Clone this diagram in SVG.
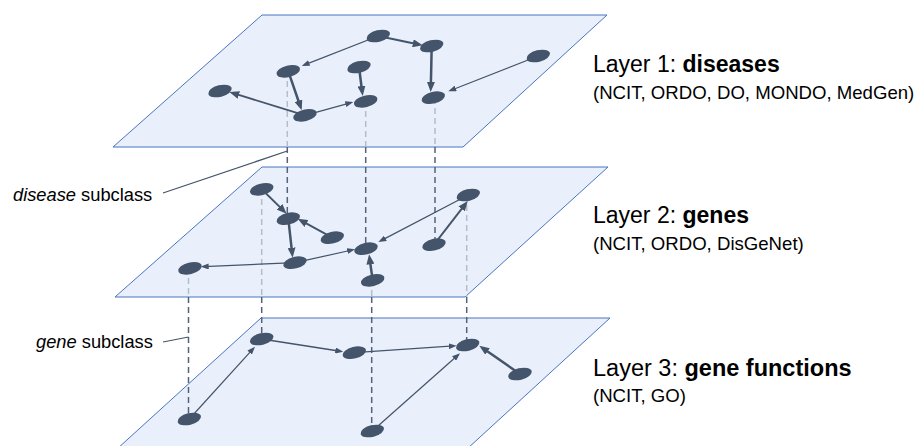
<svg xmlns="http://www.w3.org/2000/svg" width="917" height="446" viewBox="0 0 917 446">
<style>
.plane{fill:#E9F0FB;stroke:#4A74C0;stroke-width:1}
.node{fill:#44546A}
.e{stroke:#44546A;fill:none}
.thin{stroke-width:1.2;marker-end:url(#as)}
.mid{stroke-width:1.9;marker-end:url(#al)}
.thick{stroke-width:2.5;marker-end:url(#al)}
.dk{stroke:#56627A;stroke-width:1.5;stroke-dasharray:6 4;fill:none}
.lt{stroke:#B3BDCB;stroke-width:1.5;stroke-dasharray:6 4;fill:none}
.call{stroke:#44546A;stroke-width:1.2;fill:none}
.t{font-family:"Liberation Sans",Arial,sans-serif;fill:#000}
</style>
<defs>
<marker id="as" viewBox="0 0 8 6" markerWidth="8" markerHeight="6" refX="5" refY="3" orient="auto" markerUnits="userSpaceOnUse"><path d="M0,0 L8,3 L0,6 z" fill="#44546A"/></marker>
<marker id="al" viewBox="0 0 10 8" markerWidth="10" markerHeight="8" refX="6" refY="4" orient="auto" markerUnits="userSpaceOnUse"><path d="M0,0 L10,4 L0,8 z" fill="#44546A"/></marker>
</defs>
<g id="planes">
<polygon class="plane" points="262,15 607,15 463,147 113,147"/>
<polygon class="plane" points="262,167 608,167 465,297 115,297"/>
<polygon class="plane" points="261,318 610,318 467,449 117,449"/>
</g>
<g id="connectors">
<path class="lt" d="M287.3,71 V147"/><path class="dk" d="M287.3,147 V219"/>
<path class="lt" d="M365.7,101 V147"/><path class="dk" d="M365.7,147 V249"/>
<path class="lt" d="M435,98 V147"/><path class="dk" d="M435,147 V245"/>
<path class="lt" d="M261.7,189 V297"/><path class="dk" d="M261.7,297 V339"/>
<path class="lt" d="M188.5,268 V297"/><path class="dk" d="M188.5,297 V419"/>
<path class="lt" d="M371.7,280 V297"/><path class="dk" d="M371.7,297 V431"/>
<path class="lt" d="M466.7,195 V297"/><path class="dk" d="M466.7,297 V345"/>
<path class="call" d="M163,193 L287.3,151"/>
<path class="call" d="M163,342 L188.5,337"/>
<path class="e mid" d="M378.3,36 L418.8,44.5"/>
<path class="e thin" d="M378.3,36 L304.5,64.9"/>
<path class="e thick" d="M431.7,46 L430.8,88"/>
<path class="e thin" d="M538.3,56 L451.1,90.2"/>
<path class="e thick" d="M288.3,71.3 L300.4,106.5"/>
<path class="e thick" d="M359,67 L362.2,92"/>
<path class="e mid" d="M305,115.3 L233.1,93.2"/>
<path class="e thin" d="M305,115.3 L350.4,102.8"/>
<path class="e mid" d="M261.7,189.3 L283.8,210.9"/>
<path class="e mid" d="M332.3,237.7 L301.2,220.6"/>
<path class="e thick" d="M288.3,218.7 L292.2,253.7"/>
<path class="e thin" d="M295,262.7 L203.7,266.6"/>
<path class="e thin" d="M295,262.7 L352.1,250"/>
<path class="e thick" d="M372.7,280.3 L369.6,258.3"/>
<path class="e thin" d="M468.3,195 L381,240.6"/>
<path class="e mid" d="M434,244.7 L465.3,204.2"/>
<path class="e thin" d="M189.3,419 L253,348.9"/>
<path class="e thin" style="stroke-width:1.5" d="M261.7,339 L340.3,351.2"/>
<path class="e thin" d="M354.3,352.7 L453.7,345.9"/>
<path class="e thin" d="M372.3,431 L457.8,355.3"/>
<path class="e thick" d="M520,374 L482.6,348"/>
</g>
<g id="n1a"><ellipse class="node" cx="378.3" cy="36" rx="12" ry="5.8" transform="rotate(-14 378.3 36)"/></g>
<g id="n1b"><ellipse class="node" cx="431.7" cy="46" rx="12" ry="5.8" transform="rotate(-14 431.7 46)"/></g>
<g id="n1c"><ellipse class="node" cx="538.3" cy="56" rx="12" ry="5.8" transform="rotate(-14 538.3 56)"/></g>
<g id="n1d"><ellipse class="node" cx="288.3" cy="71.3" rx="12" ry="5.8" transform="rotate(-14 288.3 71.3)"/></g>
<g id="n1e"><ellipse class="node" cx="359" cy="67" rx="12" ry="5.8" transform="rotate(-14 359 67)"/></g>
<g id="n1f"><ellipse class="node" cx="220" cy="91" rx="12" ry="5.8" transform="rotate(-14 220 91)"/></g>
<g id="n1g"><ellipse class="node" cx="305" cy="115.3" rx="12" ry="5.8" transform="rotate(-14 305 115.3)"/></g>
<g id="n1h"><ellipse class="node" cx="365.7" cy="101.3" rx="12" ry="5.8" transform="rotate(-14 365.7 101.3)"/></g>
<g id="n1i"><ellipse class="node" cx="433.3" cy="97.7" rx="12" ry="5.8" transform="rotate(-14 433.3 97.7)"/></g>
<g id="n2a"><ellipse class="node" cx="261.7" cy="189.3" rx="12" ry="5.8" transform="rotate(-14 261.7 189.3)"/></g>
<g id="n2b"><ellipse class="node" cx="288.3" cy="218.7" rx="12" ry="5.8" transform="rotate(-14 288.3 218.7)"/></g>
<g id="n2c"><ellipse class="node" cx="332.3" cy="237.7" rx="12" ry="5.8" transform="rotate(-14 332.3 237.7)"/></g>
<g id="n2d"><ellipse class="node" cx="190" cy="268.3" rx="12" ry="5.8" transform="rotate(-14 190 268.3)"/></g>
<g id="n2e"><ellipse class="node" cx="295" cy="262.7" rx="12" ry="5.8" transform="rotate(-14 295 262.7)"/></g>
<g id="n2f"><ellipse class="node" cx="366" cy="248.7" rx="12" ry="5.8" transform="rotate(-14 366 248.7)"/></g>
<g id="n2g"><ellipse class="node" cx="372.7" cy="280.3" rx="12" ry="5.8" transform="rotate(-14 372.7 280.3)"/></g>
<g id="n2h"><ellipse class="node" cx="434" cy="244.7" rx="12" ry="5.8" transform="rotate(-14 434 244.7)"/></g>
<g id="n2i"><ellipse class="node" cx="468.3" cy="195" rx="12" ry="5.8" transform="rotate(-14 468.3 195)"/></g>
<g id="n3a"><ellipse class="node" cx="189.3" cy="419" rx="12" ry="5.8" transform="rotate(-14 189.3 419)"/></g>
<g id="n3b"><ellipse class="node" cx="261.7" cy="339" rx="12" ry="5.8" transform="rotate(-14 261.7 339)"/></g>
<g id="n3c"><ellipse class="node" cx="354.3" cy="352.7" rx="12" ry="5.8" transform="rotate(-14 354.3 352.7)"/></g>
<g id="n3d"><ellipse class="node" cx="467.7" cy="345" rx="12" ry="5.8" transform="rotate(-14 467.7 345)"/></g>
<g id="n3e"><ellipse class="node" cx="520" cy="374" rx="12" ry="5.8" transform="rotate(-14 520 374)"/></g>
<g id="n3f"><ellipse class="node" cx="372.3" cy="431" rx="12" ry="5.8" transform="rotate(-14 372.3 431)"/></g>
<g id="labels">
<text class="t" x="593" y="72" font-size="23">Layer 1: <tspan font-weight="bold">diseases</tspan></text>
<text class="t" x="593" y="99" font-size="18.6">(NCIT, ORDO, DO, MONDO, MedGen)</text>
<text class="t" x="593" y="223" font-size="23">Layer 2: <tspan font-weight="bold">genes</tspan></text>
<text class="t" x="593" y="250" font-size="18.6">(NCIT, ORDO, DisGeNet)</text>
<text class="t" x="593" y="376" font-size="23.5">Layer 3: <tspan font-weight="bold">gene functions</tspan></text>
<text class="t" x="593" y="402" font-size="18.6">(NCIT, GO)</text>
<text class="t" x="13" y="200.5" font-size="18.3"><tspan font-style="italic">disease</tspan> subclass</text>
<text class="t" x="36" y="348" font-size="18.3"><tspan font-style="italic">gene</tspan> subclass</text>
</g>
</svg>
